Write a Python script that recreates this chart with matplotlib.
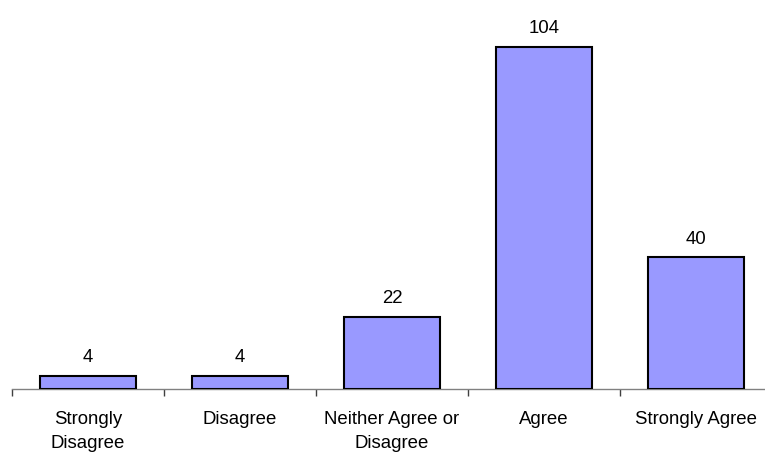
import matplotlib
matplotlib.use("Agg")
import matplotlib.pyplot as plt

categories = ["Strongly\nDisagree", "Disagree", "Neither Agree or\nDisagree", "Agree", "Strongly Agree"]
counts = [4, 4, 22, 104, 40]

plt.rcParams["font.family"] = ["Liberation Sans", "DejaVu Sans"]

W, H = 765, 453
fig = plt.figure(figsize=(W / 100, H / 100), dpi=100)

# axis spans from x=12px to 772px (last category slightly past the right edge)
left_px, right_px = 12, 772
base_px, top_px = 389, 0
ax = fig.add_axes([left_px / W, (H - base_px) / H,
                   (right_px - left_px) / W, (base_px - top_px) / H])

x = range(len(categories))
ax.bar(x, counts, width=0.63, color="#9999FF", edgecolor="black", linewidth=1.5, zorder=3)

ax.set_xlim(-0.5, len(categories) - 0.5)
ax.set_ylim(0, 104 * 389 / 342)

for xi, v in zip(x, counts):
    ax.annotate(str(v), (xi, v), xytext=(0, 7), textcoords="offset points",
                ha="center", va="bottom", fontsize=13.4, color="black")

for side in ["top", "right", "left"]:
    ax.spines[side].set_visible(False)
ax.spines["bottom"].set_color("#808080")
ax.spines["bottom"].set_linewidth(1)
ax.set_yticks([])

ax.set_xticks([i - 0.5 for i in range(len(categories) + 1)], minor=False)
ax.set_xticklabels([])
ax.tick_params(axis="x", which="major", length=5, width=1, color="#404040", direction="out")
ax.set_xticks(list(x), minor=True)
ax.set_xticklabels(categories, minor=True, fontsize=13.4, linespacing=1.5)
ax.tick_params(axis="x", which="minor", length=0, pad=16)

fig.savefig("out.png", dpi=100)
